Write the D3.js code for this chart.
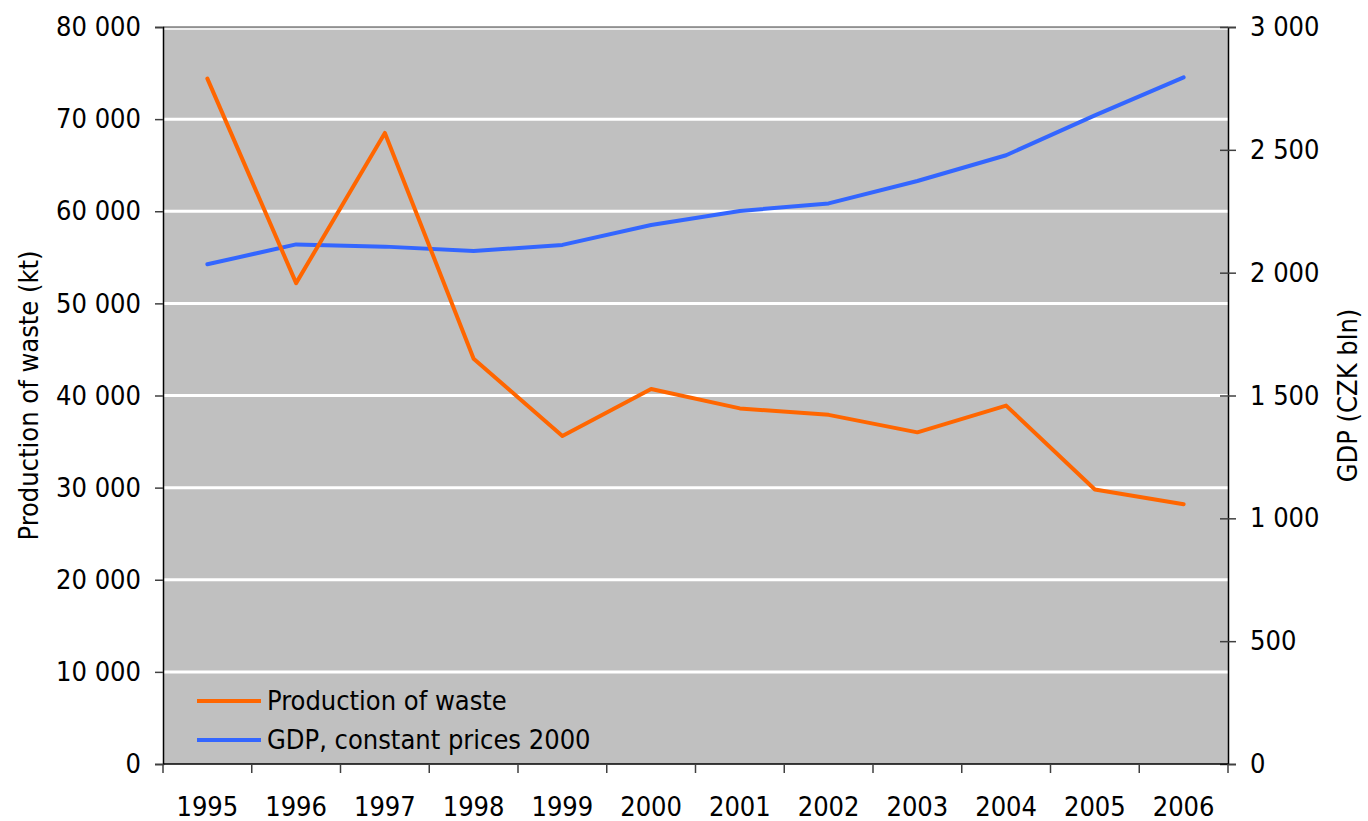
<!DOCTYPE html>
<html>
<head>
<meta charset="utf-8">
<script src="https://cdn.jsdelivr.net/npm/d3@7"></script>
<style>
  body { margin: 0; background: #fff; }
  text { font-family: "DejaVu Sans Condensed", "DejaVu Sans", sans-serif; }
</style>
</head>
<body>
<div id="wrapper"></div>
<script>
const years = ["1995", "1996", "1997", "1998", "1999", "2000", "2001", "2002", "2003", "2004", "2005", "2006"]
const wasteValues = [74400, 52200, 68500, 44000, 35600, 40700, 38600, 37900, 36000, 38900, 29800, 28200]
const gdpValues = [2034, 2115, 2106, 2088, 2113, 2194, 2251, 2282, 2373, 2478, 2640, 2795]
const leftTicks = [0, 10000, 20000, 30000, 40000, 50000, 60000, 70000, 80000]
const rightTicks = [0, 500, 1000, 1500, 2000, 2500, 3000]

const seriesNames = ["Production of waste", "GDP, constant prices 2000"]
const seriesColors = ["#ff6600", "#3366ff"]

const dimensions = {
  width: 1368,
  height: 821,
  margin: { top: 27, right: 140, bottom: 57, left: 163 }
}
dimensions.boundedWidth = dimensions.width - dimensions.margin.left - dimensions.margin.right
dimensions.boundedHeight = dimensions.height - dimensions.margin.top - dimensions.margin.bottom

const fontSize = 27
const fontFamily = '"DejaVu Sans Condensed", "DejaVu Sans", sans-serif'
const spaceFormat = d3.formatLocale({ decimal: ".", thousands: " ", grouping: [3], currency: ["", ""] }).format(",")

const xScale = d3.scaleBand().domain(years).range([0, dimensions.boundedWidth])
const yLeft = d3.scaleLinear().domain([0, 80000]).range([dimensions.boundedHeight, 0])
const yRight = d3.scaleLinear().domain([0, 3000]).range([dimensions.boundedHeight, 0])
const xCenter = d => xScale(d) + xScale.bandwidth() / 2

const wrapper = d3.select("#wrapper")
  .append("svg")
  .attr("width", dimensions.width)
  .attr("height", dimensions.height)

const bounds = wrapper.append("g")
  .attr("transform", `translate(${dimensions.margin.left},${dimensions.margin.top})`)

// plot background
bounds.append("rect")
  .attr("width", dimensions.boundedWidth)
  .attr("height", dimensions.boundedHeight)
  .attr("fill", "#c0c0c0")

// horizontal gridlines on left ticks
bounds.append("g")
  .selectAll("line")
  .data(leftTicks.filter(t => t > 0))
  .join("line")
  .attr("x1", 0)
  .attr("x2", dimensions.boundedWidth)
  .attr("y1", d => yLeft(d) + (d === 80000 ? 2 : 0))
  .attr("y2", d => yLeft(d) + (d === 80000 ? 2 : 0))
  .attr("stroke", "#fff")
  .attr("stroke-width", d => d === 80000 ? 1.5 : 3)

// top border
bounds.append("line")
  .attr("x1", 0).attr("x2", dimensions.boundedWidth)
  .attr("y1", 0).attr("y2", 0)
  .attr("stroke", "#808080")
  .attr("stroke-width", 1.5)

// lines
const wasteLine = d3.line().x((d, i) => xCenter(years[i])).y(d => yLeft(d))
const gdpLine = d3.line().x((d, i) => xCenter(years[i])).y(d => yRight(d))

bounds.append("path")
  .attr("d", gdpLine(gdpValues))
  .attr("fill", "none")
  .attr("stroke", seriesColors[1])
  .attr("stroke-width", 4)
  .attr("stroke-linejoin", "round")
  .attr("stroke-linecap", "round")

bounds.append("path")
  .attr("d", wasteLine(wasteValues))
  .attr("fill", "none")
  .attr("stroke", seriesColors[0])
  .attr("stroke-width", 4)
  .attr("stroke-linejoin", "round")
  .attr("stroke-linecap", "round")

// left axis
const leftAxis = bounds.append("g")
  .call(d3.axisLeft(yLeft).tickValues(leftTicks).tickSize(8).tickPadding(14).tickFormat(spaceFormat))
leftAxis.select(".domain").attr("stroke", "#000").attr("stroke-width", 1.5)
leftAxis.selectAll(".tick line").attr("stroke", "#404040").attr("stroke-width", 1.5)
leftAxis.selectAll("text")
  .attr("font-size", fontSize)
  .attr("font-family", fontFamily)
  .attr("fill", "#000")

// right axis
const rightAxis = bounds.append("g")
  .attr("transform", `translate(${dimensions.boundedWidth},0)`)
  .call(d3.axisRight(yRight).tickValues(rightTicks).tickSize(8).tickPadding(14).tickFormat(spaceFormat))
rightAxis.select(".domain").attr("stroke", "#000").attr("stroke-width", 1.5)
rightAxis.selectAll(".tick line").attr("x1", -8).attr("x2", 8).attr("stroke", "#404040").attr("stroke-width", 1.5)
rightAxis.selectAll("text")
  .attr("font-size", fontSize)
  .attr("font-family", fontFamily)
  .attr("fill", "#000")

// bottom axis: ticks between categories
const bottomAxis = bounds.append("g")
  .attr("transform", `translate(0,${dimensions.boundedHeight})`)
bottomAxis.append("line")
  .attr("x1", 0).attr("x2", dimensions.boundedWidth)
  .attr("stroke", "#000").attr("stroke-width", 1.5)
bottomAxis.selectAll(".sep")
  .data(years.concat(["end"]))
  .join("line")
  .attr("class", "sep")
  .attr("x1", (d, i) => i < years.length ? xScale(d) : dimensions.boundedWidth)
  .attr("x2", (d, i) => i < years.length ? xScale(d) : dimensions.boundedWidth)
  .attr("y1", 0).attr("y2", 9)
  .attr("stroke", "#404040").attr("stroke-width", 1.5)
bottomAxis.selectAll(".lbl")
  .data(years)
  .join("text")
  .attr("class", "lbl")
  .attr("x", d => xCenter(d))
  .attr("y", 52)
  .attr("text-anchor", "middle")
  .attr("font-size", fontSize)
  .text(d => d)

// axis titles
wrapper.append("text")
  .attr("transform", `translate(38,${dimensions.margin.top + dimensions.boundedHeight / 2}) rotate(-90)`)
  .attr("text-anchor", "middle")
  .attr("font-size", fontSize)
  .text("Production of waste (kt)")

wrapper.append("text")
  .attr("transform", `translate(1357,${dimensions.margin.top + dimensions.boundedHeight / 2}) rotate(-90)`)
  .attr("text-anchor", "middle")
  .attr("font-size", fontSize)
  .text("GDP (CZK bln)")

// legend
const legend = bounds.append("g")
  .attr("transform", "translate(34,674)")
seriesNames.forEach((name, i) => {
  const row = legend.append("g").attr("transform", `translate(0,${i * 39})`)
  row.append("line")
    .attr("x1", 0).attr("x2", 64)
    .attr("stroke", seriesColors[i])
    .attr("stroke-width", 4)
  row.append("text")
    .attr("x", 70)
    .attr("y", 9)
    .attr("font-size", fontSize)
    .text(name)
})
</script>
</body>
</html>
